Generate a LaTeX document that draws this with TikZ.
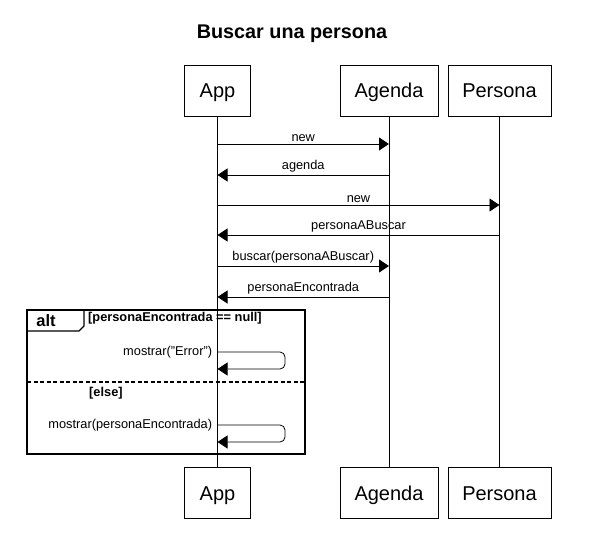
\documentclass[tikz,border=0pt]{standalone}
\usepackage{fontspec}
\setmainfont{Liberation Sans}
\usetikzlibrary{calc,arrows.meta}

\begin{document}
\begin{tikzpicture}[x=1pt,y=-1pt,
    actor/.style={draw,line width=0.8pt,minimum height=51pt,inner sep=0pt,text height=17pt,text depth=2.5pt,font=\fontsize{20}{23}\selectfont},
    msg/.style={line width=0.8pt,-{Triangle[length=10pt,width=13pt]}},
    lbl/.style={above,inner sep=2pt,font=\fontsize{12.8}{14}\selectfont},
    lblL/.style={left,inner sep=5pt,font=\fontsize{12.8}{14}\selectfont},
    guard/.style={right,inner sep=0pt,font=\bfseries\fontsize{12.8}{14}\selectfont}]
                      \useasboundingbox (0,0) rectangle (611,554);
                      \node [font=\bfseries\fontsize{19.8}{22}\selectfont] (title) at (292,34) {Buscar una persona};
                      % participants
                      \node [actor,minimum width=66pt] (appT) at (217.5,90.5) {App};
                      \node [actor,minimum width=98pt] (agT) at (389,90.5) {Agenda};
                      \node [actor,minimum width=103pt] (peT) at (499.5,90.5) {Persona};
                      \node [actor,minimum width=66pt] (appB) at (217.5,493) {App};
                      \node [actor,minimum width=98pt] (agB) at (389,493) {Agenda};
                      \node [actor,minimum width=103pt] (peB) at (499.5,493) {Persona};
                      % alt frame
                      \draw[line width=1.6pt] (27,310) rectangle (305,454);
                      \draw[line width=1.2pt] (27,331) --(79,331) --(84,326) --(84,310);
                      \node [font=\bfseries\fontsize{16.5}{18}\selectfont] (alt) at (46,320.5) {alt};
                      \node [guard] (g1) at (88,318.5) {[personaEncontrada == null]};
                      \draw[line width=1.6pt,dash pattern=on 4pt off 2.5pt] (27,382)--(305,382);
                      \node [guard] (g2) at (89,393) {[else]};
                      % lifelines
                      \draw[line width=0.8pt] (appT)--(appB);
                      \draw[line width=0.8pt] (agT)--(agB);
                      \draw[line width=0.8pt] (peT)--(peB);
                      % messages
                      \coordinate (m1) at (0,144);
                      \coordinate (m2) at (0,175);
                      \coordinate (m3) at (0,205);
                      \coordinate (m4) at (0,235);
                      \coordinate (m5) at (0,266);
                      \coordinate (m6) at (0,297);
                      \draw[msg] (appT |- m1) -- node [lbl] {new} (agT |- m1);
                      \draw[msg] (agT |- m2) -- node [lbl] {agenda} (appT |- m2);
                      \draw[msg] (appT |- m3) -- node [lbl] {new} (peT |- m3);
                      \draw[msg] (peT |- m4) -- node [lbl] {personaABuscar} (appT |- m4);
                      \draw[msg] (appT |- m5) -- node [lbl] {buscar(personaABuscar)} (agT |- m5);
                      \draw[msg] (agT |- m6) -- node [lbl] {personaEncontrada} (appT |- m6);
                      % self calls
                      \coordinate (s1) at (285,352);
                      \coordinate (s2) at (285,425);
                      \draw[msg,rounded corners=5pt] (appT |- s1) node [lblL] {mostrar("Error")} -- (s1) -- ++(0,17) -- ($(appT |- s1)+(0,17)$);
                      \draw[msg,rounded corners=5pt] (appT |- s2) node [lblL] {mostrar(personaEncontrada)} -- (s2) -- ++(0,17) -- ($(appT |- s2)+(0,17)$);
                  \end{tikzpicture}
\end{document}
